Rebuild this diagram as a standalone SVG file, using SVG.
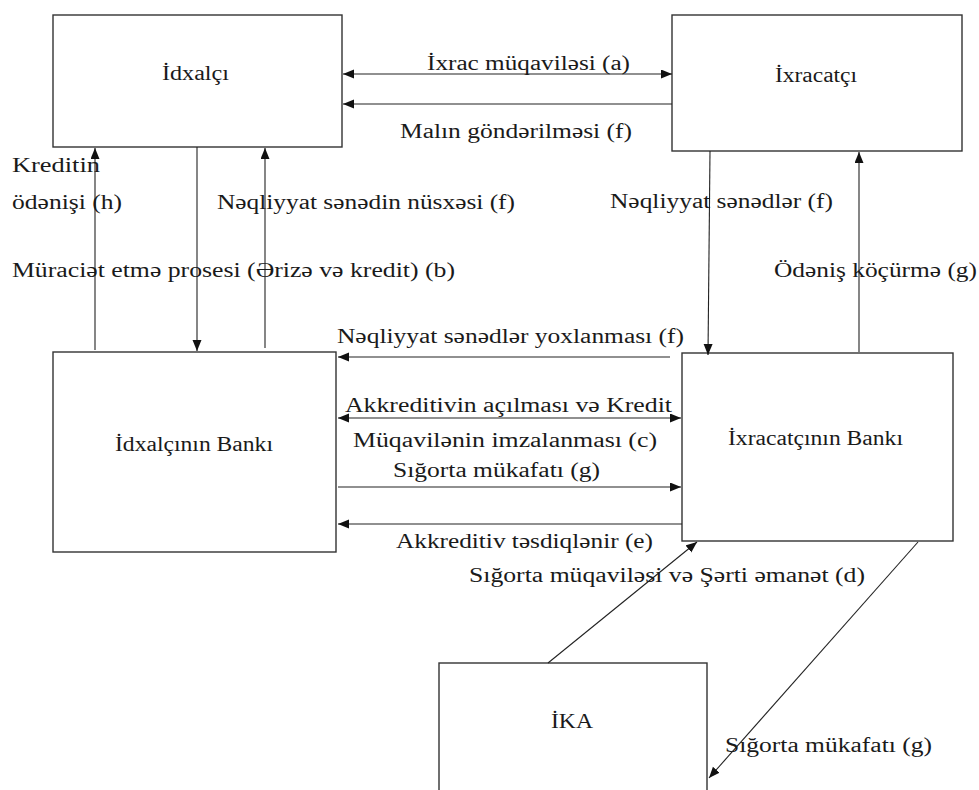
<svg xmlns="http://www.w3.org/2000/svg" width="979" height="790" viewBox="0 0 979 790">
<defs>
<marker id="ah" markerUnits="userSpaceOnUse" markerWidth="12" markerHeight="10" refX="11" refY="4.5" orient="auto-start-reverse" viewBox="0 0 12 10">
<path d="M0,0 L11,4.5 L0,9 z" fill="#111"/>
</marker>
<style>
.box{fill:#fff;stroke:#333;stroke-width:1.4}
.ln{fill:none;stroke:#222;stroke-width:1.1}
.t{font-family:"Liberation Serif","Times New Roman",serif;font-size:20px;fill:#1a1a1a}
</style>
</defs>
<rect width="979" height="790" fill="#fff"/>
<g id="idxalci">
<rect class="box" x="53" y="15" width="289" height="132"/>
<text class="t" transform="scale(1.25 1)" x="129.6" y="80" textLength="53.6" lengthAdjust="spacingAndGlyphs">İdxalçı</text>
</g>
<g id="ixracatci">
<rect class="box" x="672" y="15" width="290" height="136"/>
<text class="t" transform="scale(1.25 1)" x="620" y="82" textLength="65.6" lengthAdjust="spacingAndGlyphs">İxracatçı</text>
</g>
<g id="idxalcinin-banki">
<rect class="box" x="53" y="352" width="283" height="200"/>
<text class="t" transform="scale(1.25 1)" x="92" y="451" textLength="126.4" lengthAdjust="spacingAndGlyphs">İdxalçının Bankı</text>
</g>
<g id="ixracatcinin-banki">
<rect class="box" x="682" y="353" width="271" height="188"/>
<text class="t" transform="scale(1.25 1)" x="582.4" y="445" textLength="140" lengthAdjust="spacingAndGlyphs">İxracatçının Bankı</text>
</g>
<g id="ika">
<rect class="box" x="439" y="663" width="268" height="140"/>
<text class="t" transform="scale(1.25 1)" x="440.8" y="728" textLength="33.6" lengthAdjust="spacingAndGlyphs">İKA</text>
</g>
<g id="connectors">
<line class="ln" x1="343" y1="74" x2="672" y2="74" marker-start="url(#ah)" marker-end="url(#ah)"/>
<line class="ln" x1="672" y1="104" x2="343" y2="104" marker-end="url(#ah)"/>
<line class="ln" x1="95" y1="350" x2="95" y2="148" marker-end="url(#ah)"/>
<line class="ln" x1="197" y1="147" x2="197" y2="351" marker-end="url(#ah)"/>
<line class="ln" x1="265" y1="348" x2="265" y2="148" marker-end="url(#ah)"/>
<line class="ln" x1="710" y1="151" x2="708" y2="355" marker-end="url(#ah)"/>
<line class="ln" x1="859" y1="352" x2="859" y2="152" marker-end="url(#ah)"/>
<line class="ln" x1="670" y1="357" x2="338" y2="357" marker-end="url(#ah)"/>
<line class="ln" x1="338" y1="418" x2="681" y2="418" marker-start="url(#ah)" marker-end="url(#ah)"/>
<line class="ln" x1="338" y1="487" x2="681" y2="487" marker-end="url(#ah)"/>
<line class="ln" x1="682" y1="524" x2="338" y2="524" marker-end="url(#ah)"/>
<line class="ln" x1="548" y1="663" x2="697" y2="542" marker-end="url(#ah)"/>
<line class="ln" x1="918" y1="542" x2="709" y2="778" marker-end="url(#ah)"/>
</g>
<g id="labels" transform="scale(1.25 1)">
<text class="t" x="341.6" y="70" textLength="162.4" lengthAdjust="spacingAndGlyphs">İxrac müqaviləsi (a)</text>
<text class="t" x="320" y="138" textLength="185.6" lengthAdjust="spacingAndGlyphs">Malın göndərilməsi (f)</text>
<text class="t" x="9.6" y="172" textLength="70.4" lengthAdjust="spacingAndGlyphs">Kreditin</text>
<text class="t" x="9.6" y="209" textLength="88" lengthAdjust="spacingAndGlyphs">ödənişi (h)</text>
<text class="t" x="173.6" y="209" textLength="238.4" lengthAdjust="spacingAndGlyphs">Nəqliyyat sənədin nüsxəsi (f)</text>
<text class="t" x="9.6" y="277" textLength="354.4" lengthAdjust="spacingAndGlyphs">Müraciət etmə prosesi (Ərizə və kredit) (b)</text>
<text class="t" x="488" y="208" textLength="178.4" lengthAdjust="spacingAndGlyphs">Nəqliyyat sənədlər (f)</text>
<text class="t" x="619.2" y="277" textLength="162.4" lengthAdjust="spacingAndGlyphs">Ödəniş köçürmə (g)</text>
<text class="t" x="269.6" y="343" textLength="277.6" lengthAdjust="spacingAndGlyphs">Nəqliyyat sənədlər yoxlanması (f)</text>
<text class="t" x="276" y="412" textLength="261.6" lengthAdjust="spacingAndGlyphs">Akkreditivin açılması və Kredit</text>
<text class="t" x="282.4" y="447" textLength="243.2" lengthAdjust="spacingAndGlyphs">Müqavilənin imzalanması (c)</text>
<text class="t" x="314.4" y="477" textLength="165.6" lengthAdjust="spacingAndGlyphs">Sığorta mükafatı (g)</text>
<text class="t" x="316.8" y="548" textLength="205.6" lengthAdjust="spacingAndGlyphs">Akkreditiv təsdiqlənir (e)</text>
<text class="t" x="375.2" y="582" textLength="316.8" lengthAdjust="spacingAndGlyphs">Sığorta müqaviləsi və Şərti əmanət (d)</text>
<text class="t" x="580" y="752" textLength="165.6" lengthAdjust="spacingAndGlyphs">Sığorta mükafatı (g)</text>
</g>
</svg>
